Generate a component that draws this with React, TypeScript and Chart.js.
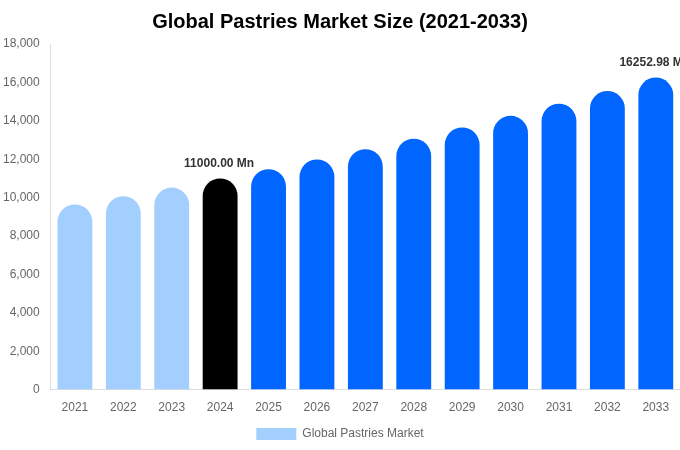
import React, { useEffect, useRef } from "react";
import { Chart, registerables } from "chart.js";

Chart.register(...registerables);

const years = ["2021", "2022", "2023", "2024", "2025", "2026", "2027", "2028", "2029", "2030", "2031", "2032", "2033"];
const marketSize = [9640, 10070, 10520, 11000, 11480, 11990, 12520, 13070, 13650, 14260, 14890, 15550, 16252.98];
const barColors = [
  "#a2cffe", "#a2cffe", "#a2cffe", "#000000",
  "#0066ff", "#0066ff", "#0066ff", "#0066ff", "#0066ff", "#0066ff", "#0066ff", "#0066ff", "#0066ff",
];
const labelledIndices = [3, 12];
const chartTitle = "Global Pastries Market Size (2021-2033)";
const seriesName = "Global Pastries Market";

const FONT = "'Liberation Sans', Arial, Helvetica, sans-serif";

const valueLabelPlugin = {
  id: "valueLabels",
  afterDatasetsDraw(chart: any) {
    const ctx = chart.ctx;
    const meta = chart.getDatasetMeta(0);
    ctx.save();
    ctx.font = `bold 12px ${FONT}`;
    ctx.fillStyle = "#333333";
    ctx.textAlign = "center";
    ctx.textBaseline = "bottom";
    labelledIndices.forEach((i) => {
      const el = meta.data[i];
      if (!el) return;
      const v = marketSize[i];
      ctx.fillText(`${v.toFixed(2)} Mn`, el.x - 1, el.y - 9);
    });
    ctx.restore();
  },
};

export default function App() {
  const canvasRef = useRef<HTMLCanvasElement | null>(null);

  useEffect(() => {
    document.body.style.margin = "0";
    if (!canvasRef.current) return;
    const chart = new Chart(canvasRef.current, {
      type: "bar",
      data: {
        labels: years,
        datasets: [
          {
            label: seriesName,
            data: marketSize,
            backgroundColor: barColors,
            borderRadius: 40,
            borderSkipped: "start",
          },
        ],
      },
      options: {
        animation: false,
        responsive: true,
        maintainAspectRatio: false,
        layout: { padding: { left: 0, right: 0, top: 0, bottom: 0 } },
        plugins: {
          title: {
            display: true,
            text: chartTitle,
            color: "#000000",
            font: { family: FONT, size: 20, weight: "bold" },
            padding: { top: 10, bottom: 10 },
          },
          legend: {
            display: true,
            position: "bottom",
            labels: {
              color: "#666666",
              font: { family: FONT, size: 12 },
              boxWidth: 40,
              boxHeight: 12,
            },
          },
          tooltip: { enabled: false },
        },
        scales: {
          x: {
            grid: { display: false },
            border: { display: true, color: "#dddddd" },
            ticks: { color: "#666666", font: { family: FONT, size: 12 } },
          },
          y: {
            min: 0,
            max: 18000,
            grid: { display: false },
            border: { display: true, color: "#dddddd" },
            ticks: {
              stepSize: 2000,
              color: "#666666",
              font: { family: FONT, size: 12 },
            },
          },
        },
      },
      plugins: [valueLabelPlugin],
    });
    return () => chart.destroy();
  }, []);

  return (
    <div style={{ position: "absolute", left: 0, top: 0, width: 680, height: 450 }}>
      <canvas ref={canvasRef} />
    </div>
  );
}
